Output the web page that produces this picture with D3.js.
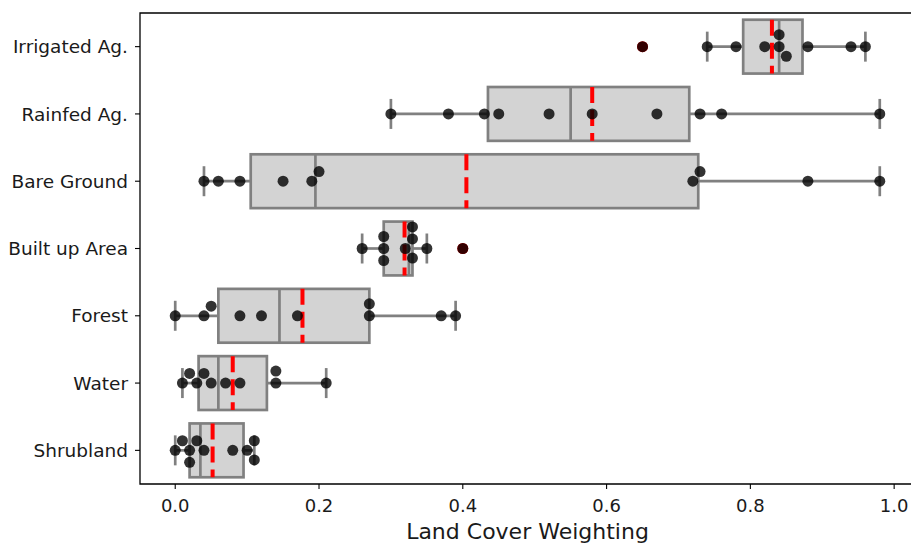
<!DOCTYPE html>
<html>
<head>
<meta charset="utf-8">
<script src="https://cdn.jsdelivr.net/npm/d3@7"></script>
<style>
  body { margin: 0; background: white; }
  text { font-family: "DejaVu Sans", sans-serif; fill: #1a1a1a; }
</style>
</head>
<body>
<div class="svg"></div>
<script>
//Data
var categories = ["Irrigated Ag.", "Rainfed Ag.", "Bare Ground", "Built up Area", "Forest", "Water", "Shrubland"];

var irrigatedAg = [0.65, 0.74, 0.78, 0.82, 0.84, 0.84, 0.85, 0.88, 0.94, 0.96];
var rainfedAg   = [0.30, 0.38, 0.43, 0.45, 0.52, 0.58, 0.67, 0.73, 0.76, 0.98];
var bareGround  = [0.04, 0.06, 0.09, 0.15, 0.19, 0.20, 0.72, 0.73, 0.88, 0.98];
var builtUp     = [0.26, 0.29, 0.29, 0.29, 0.32, 0.33, 0.33, 0.33, 0.35, 0.40];
var forest      = [0.00, 0.04, 0.05, 0.09, 0.12, 0.17, 0.27, 0.27, 0.37, 0.39];
var water       = [0.01, 0.02, 0.03, 0.04, 0.05, 0.07, 0.09, 0.14, 0.14, 0.21];
var shrubland   = [0.00, 0.01, 0.02, 0.02, 0.03, 0.04, 0.08, 0.10, 0.11, 0.11];

// red dashed mean markers
var means = [0.83, 0.58, 0.405, 0.319, 0.177, 0.08, 0.052];

var xTicks = [0, 0.2, 0.4, 0.6, 0.8, 1.0];

var series = [irrigatedAg, rainfedAg, bareGround, builtUp, forest, water, shrubland];

//Config
var width = 911,
    height = 543,
    margin = {
      top : 13,
      bottom : 59,
      right : -4,
      left : 140
    },
    dotR = 5.5,
    swarmD = 12,
    boxColor = "#808080";

var svg = d3.select(".svg")
    .append("svg")
    .attr("width", width)
    .attr("height", height);

var x = d3.scaleLinear()
    .domain([-0.049, 1.029])
    .range([margin.left, width - margin.right]);

var y = d3.scaleBand()
    .domain(categories)
    .range([margin.top, height - margin.bottom]);

var boxH = y.bandwidth() * 0.8;

//Box stats
function stats(vals) {
  var s = vals.slice().sort(d3.ascending);
  var q1 = d3.quantile(s, 0.25),
      med = d3.quantile(s, 0.5),
      q3 = d3.quantile(s, 0.75),
      iqr = q3 - q1;
  var inside = s.filter(function (v) { return v >= q1 - 1.5 * iqr && v <= q3 + 1.5 * iqr; });
  return {
    q1 : q1, med : med, q3 : q3,
    lo : d3.min(inside), hi : d3.max(inside),
    fliers : s.filter(function (v) { return v < q1 - 1.5 * iqr || v > q3 + 1.5 * iqr; })
  };
}

//Beeswarm offsets (pixels, negative = up)
function swarm(vals) {
  var pts = vals.map(function (v) { return { v : v, px : x(v), off : 0 }; })
    .sort(function (a, b) { return a.px - b.px; });
  var placed = [];
  pts.forEach(function (p) {
    var nb = placed.filter(function (q) { return Math.abs(q.px - p.px) < swarmD; });
    var cands = [0], left = true;
    nb.forEach(function (q) {
      var dy = Math.sqrt(Math.max(swarmD * swarmD - (p.px - q.px) * (p.px - q.px), 0));
      var a = q.off - dy, b = q.off + dy;
      if (left) cands.push(a, b); else cands.push(b, a);
      left = !left;
    });
    var order = cands.map(function (c, i) { return { c : c, i : i }; })
      .sort(function (m, n) { return (Math.abs(m.c) - Math.abs(n.c)) || (m.i - n.i); });
    for (var k = 0; k < order.length; k++) {
      var c = order[k].c;
      var ok = nb.every(function (q) { return Math.hypot(q.px - p.px, q.off - c) >= swarmD - 1e-6; });
      if (ok) { p.off = c; break; }
    }
    placed.push(p);
  });
  return pts;
}

var rows = categories.map(function (c, i) {
  return { cat : c, vals : series[i], mean : means[i], s : stats(series[i]) };
});

//Boxes
var gRow = svg.append("g").selectAll(".row")
  .data(rows)
  .enter()
  .append("g")
  .classed("row", true)
  .attr("transform", function (d) { return "translate(0," + (y(d.cat) + y.bandwidth() / 2) + ")"; });

// whiskers
gRow.append("line")
  .attr("x1", function (d) { return x(d.s.lo); })
  .attr("x2", function (d) { return x(d.s.q1); })
  .style("stroke", boxColor).style("stroke-width", 2.7);
gRow.append("line")
  .attr("x1", function (d) { return x(d.s.q3); })
  .attr("x2", function (d) { return x(d.s.hi); })
  .style("stroke", boxColor).style("stroke-width", 2.7);
// caps
gRow.selectAll(".cap")
  .data(function (d) { return [d.s.lo, d.s.hi]; })
  .enter()
  .append("line")
  .classed("cap", true)
  .attr("x1", function (v) { return x(v); })
  .attr("x2", function (v) { return x(v); })
  .attr("y1", -15).attr("y2", 15)
  .style("stroke", boxColor).style("stroke-width", 2.7);

gRow.append("rect")
  .attr("x", function (d) { return x(d.s.q1); })
  .attr("width", function (d) { return x(d.s.q3) - x(d.s.q1); })
  .attr("y", -boxH / 2)
  .attr("height", boxH)
  .style("fill", "#d3d3d3")
  .style("stroke", boxColor)
  .style("stroke-width", 2.7);

gRow.append("line")
  .attr("x1", function (d) { return x(d.s.med); })
  .attr("x2", function (d) { return x(d.s.med); })
  .attr("y1", -boxH / 2).attr("y2", boxH / 2)
  .style("stroke", boxColor).style("stroke-width", 2.7);

// mean
gRow.append("line")
  .attr("x1", function (d) { return x(d.mean); })
  .attr("x2", function (d) { return x(d.mean); })
  .attr("y1", -boxH / 2).attr("y2", boxH / 2)
  .style("stroke", "red")
  .style("stroke-width", 4)
  .style("stroke-dasharray", "16,7");

// fliers
gRow.selectAll(".flier")
  .data(function (d) { return d.s.fliers; })
  .enter()
  .append("circle")
  .classed("flier", true)
  .attr("cx", function (v) { return x(v); })
  .attr("r", dotR)
  .style("fill", "red");

// swarm
gRow.selectAll(".dot")
  .data(function (d) { return swarm(d.vals); })
  .enter()
  .append("circle")
  .classed("dot", true)
  .attr("cx", function (p) { return p.px; })
  .attr("cy", function (p) { return p.off; })
  .attr("r", dotR)
  .style("fill", "black")
  .style("fill-opacity", 0.8);

//Frame
var x0 = margin.left, x1 = width - margin.right, y0 = margin.top, y1 = height - margin.bottom;
svg.append("path")
  .attr("d", "M" + x1 + "," + y0 + "H" + x0 + "V" + y1 + "H" + x1)
  .style("fill", "none")
  .style("stroke", "black")
  .style("stroke-width", 1.3);

//Axes ticks
var gx = svg.append("g");
gx.selectAll("line")
  .data(xTicks)
  .enter()
  .append("line")
  .attr("x1", function (v) { return x(v); })
  .attr("x2", function (v) { return x(v); })
  .attr("y1", y1).attr("y2", y1 + 5)
  .style("stroke", "black").style("stroke-width", 1.1);
gx.selectAll("text")
  .data(xTicks)
  .enter()
  .append("text")
  .attr("x", function (v) { return x(v); })
  .attr("y", 511.5)
  .style("text-anchor", "middle")
  .style("font-size", "18px")
  .text(d3.format(".1f"));

var gy = svg.append("g");
gy.selectAll("line")
  .data(categories)
  .enter()
  .append("line")
  .attr("x1", x0 - 5).attr("x2", x0)
  .attr("y1", function (c) { return y(c) + y.bandwidth() / 2; })
  .attr("y2", function (c) { return y(c) + y.bandwidth() / 2; })
  .style("stroke", "black").style("stroke-width", 1.1);
gy.selectAll("text")
  .data(categories)
  .enter()
  .append("text")
  .attr("x", x0 - 12)
  .attr("y", function (c) { return y(c) + y.bandwidth() / 2; })
  .attr("dy", "0.36em")
  .style("text-anchor", "end")
  .style("font-size", "18.5px")
  .text(function (c) { return c; });

svg.append("text")
  .attr("x", (x0 + x1) / 2)
  .attr("y", 539)
  .style("text-anchor", "middle")
  .style("font-size", "22px")
  .text("Land Cover Weighting");
</script>
</body>
</html>
